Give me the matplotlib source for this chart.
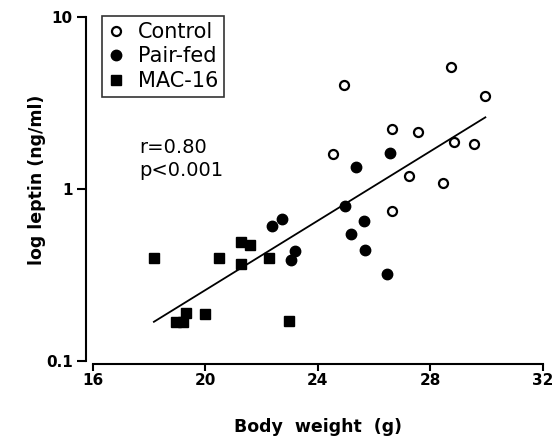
import matplotlib
matplotlib.use("Agg")
import matplotlib.pyplot as plt
from matplotlib.ticker import FixedLocator, FixedFormatter, NullLocator

plt.rcParams['font.family'] = ['DejaVu Sans']

# body weight (g) and leptin (ng/ml)
control_x = [28.75, 24.94, 29.96, 26.65, 27.55, 28.85, 29.55, 24.55, 27.26, 28.45, 26.65]
control_y = [5.14, 4.0, 3.47, 2.24, 2.14, 1.88, 1.83, 1.59, 1.19, 1.09, 0.74]

pairfed_x = [26.57, 25.36, 24.97, 22.74, 22.36, 25.64, 25.18, 23.18, 23.06, 25.67, 26.47]
pairfed_y = [1.61, 1.34, 0.80, 0.67, 0.61, 0.65, 0.545, 0.438, 0.385, 0.442, 0.32]

mac_x = [18.17, 20.47, 21.26, 21.58, 21.26, 22.27, 18.94, 19.21, 19.30, 19.98, 22.97]
mac_y = [0.395, 0.395, 0.494, 0.472, 0.366, 0.395, 0.168, 0.169, 0.189, 0.188, 0.171]

# regression line end points
fit_x = [18.17, 29.96]
fit_y = [0.169, 2.61]

xticks = [16, 20, 24, 28, 32]
yticks = [0.1, 1, 10]
ytick_labels = ['0.1', '1', '10']

fig = plt.figure(figsize=(5.6, 4.38), dpi=100)
ax = fig.add_axes([92.9/560, 77/438, 449.8/560, 344/438])

ax.plot(fit_x, fit_y, 'k-', lw=1.3)
ax.plot(control_x, control_y, 'o', ms=6.5, mfc='white', mec='black', mew=1.6, label='Control')
ax.plot(pairfed_x, pairfed_y, 'o', ms=7.5, mfc='black', mec='black', label='Pair-fed')
ax.plot(mac_x, mac_y, 's', ms=7.5, mfc='black', mec='black', label='MAC-16')

ax.set_yscale('log')
ax.set_xlim(16, 32)
ax.set_ylim(0.1, 10)
ax.yaxis.set_major_locator(FixedLocator(yticks))
ax.yaxis.set_major_formatter(FixedFormatter(ytick_labels))
ax.yaxis.set_minor_locator(NullLocator())
ax.set_xticks(xticks)

ax.spines['top'].set_visible(False)
ax.spines['right'].set_visible(False)
ax.spines['left'].set_position(('outward', 5))
ax.spines['bottom'].set_position(('outward', 2.2))
ax.spines['left'].set_linewidth(1.5)
ax.spines['bottom'].set_linewidth(1.5)
ax.tick_params(direction='out', width=1.5, labelsize=11)
ax.tick_params(axis='x', length=5, pad=1.5)
ax.tick_params(axis='y', length=6.5, pad=3)
for lab in ax.get_xticklabels() + ax.get_yticklabels():
    lab.set_fontweight('bold')

ax.set_xlabel('Body  weight  (g)', fontsize=12.5, fontweight='bold')
ax.set_ylabel('log leptin (ng/ml)', fontsize=12.5, fontweight='bold')
ax.xaxis.set_label_coords(0.5, -0.165)
ax.yaxis.set_label_coords(-0.104, 0.526)

ax.text(0.103, 0.62, 'r=0.80', transform=ax.transAxes, fontsize=14, va='center')
ax.text(0.103, 0.553, 'p<0.001', transform=ax.transAxes, fontsize=14, va='center')

leg = ax.legend(loc='upper left', bbox_to_anchor=(102/560, 1 - 16/438),
                bbox_transform=fig.transFigure, fontsize=15, frameon=True,
                fancybox=False, handlelength=0.75, handletextpad=0.7,
                borderpad=0.28, labelspacing=0.22, borderaxespad=0)
leg.get_frame().set_edgecolor('black')
leg.get_frame().set_linewidth(1.2)

fig.savefig('out.png', dpi=100)
